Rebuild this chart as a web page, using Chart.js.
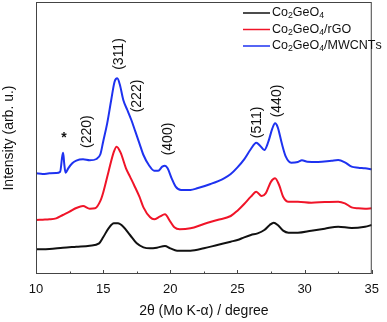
<!DOCTYPE html>
<html>
<head>
<meta charset="utf-8">
<script src="https://cdn.jsdelivr.net/npm/chart.js@4"></script>
<style>
  body { margin: 0; background: #fff; }
  canvas { display: block; }
</style>
</head>
<body>
<canvas id="chart" width="387" height="322"></canvas>
<script>
// XRD patterns, intensity in arbitrary units (offset stacked)
const seriesNames = ['Co2GeO4', 'Co2GeO4/rGO', 'Co2GeO4/MWCNTs'];
const seriesColors = ['#111111', '#f01428', '#1e32f0'];

const blackAngle = [10, 11, 12, 13, 14, 14.7, 15, 15.4, 15.8, 16.1, 16.5, 17, 17.5, 18, 18.5, 19, 19.6, 20, 20.5, 21.5,
  22.5, 23.5, 24.5, 25, 25.5, 26, 26.5, 27, 27.4, 27.7, 28, 28.4, 28.8, 29.5, 30.5, 31.5, 32.5, 33.5, 34.5, 35];
const blackIntensity = [74, 75, 79, 82, 85, 92, 110, 137, 152, 152, 142, 117, 92, 80, 77, 79, 84, 77, 70, 70,
  77, 87, 97, 102, 110, 117, 122, 132, 147, 154, 147, 130, 124, 124, 130, 136, 142, 138, 142, 147];

const redAngle = [10, 10.5, 11, 11.5, 12, 12.5, 13, 13.5, 14, 14.4, 14.8, 15, 15.4, 15.8, 16, 16.3, 16.7, 17, 17.3, 17.7,
  18, 18.5, 18.8, 19.2, 19.6, 20, 20.3, 20.7, 21.5, 22.5, 23.5, 24.5, 25, 25.5, 26, 26.4, 26.8, 27.1, 27.5, 27.8,
  28.1, 28.4, 28.8, 29.5, 30.5, 31.5, 32.5, 33, 33.5, 34, 34.5, 35];
const redIntensity = [162, 163, 164, 167, 177, 187, 198, 204, 196, 197, 220, 244, 307, 367, 382, 364, 317, 292, 267, 232,
  200, 170, 164, 172, 179, 157, 140, 134, 137, 150, 162, 174, 190, 210, 232, 247, 234, 242, 277, 287,
  267, 232, 217, 217, 214, 216, 217, 212, 200, 197, 196, 197];

const blueAngle = [10, 10.5, 11, 11.5, 11.8, 11.95, 12.02, 12.1, 12.2, 12.4, 12.7, 13, 13.5, 14, 14.5, 14.8, 15, 15.3, 15.6, 15.85,
  16.05, 16.25, 16.5, 16.8, 17.1, 17.4, 17.7, 18, 18.4, 18.8, 19.1, 19.4, 19.6, 19.8, 20.1, 20.4, 20.8, 21.5, 22, 23,
  24, 24.5, 25, 25.5, 26, 26.4, 26.7, 27, 27.3, 27.6, 27.8, 28, 28.3, 28.6, 29, 29.5, 29.8, 30.2, 31, 32,
  32.5, 33, 33.5, 34, 34.5, 35];
const blueIntensity = [302, 300, 302, 303, 307, 352, 364, 332, 304, 317, 332, 340, 344, 341, 345, 360, 397, 452, 522, 577,
  587, 567, 522, 492, 462, 427, 392, 357, 327, 310, 310, 322, 325, 317, 287, 262, 252, 252, 257, 270,
  287, 300, 320, 344, 375, 394, 384, 372, 397, 437, 452, 440, 392, 352, 334, 336, 341, 337, 336, 340,
  342, 335, 322, 319, 317, 314];

// reflection labels
const peakLabels = ['*', '(220)', '(311)', '(222)', '(400)', '(511)', '(440)'];
const peakAngles = [12.08, 13.8, 16.21, 17.53, 19.87, 26.45, 27.95];
const peakHeights = [417, 427, 660, 534, 405, 455, 519];

const FONT = '"Liberation Sans", Arial, sans-serif';

function toPoints(xs, ys) {
  return xs.map((x, i) => ({ x: x, y: ys[i] }));
}

// draws a formula, digits following a letter become subscripts
function drawFormula(ctx, text, x, y, size) {
  let cx = x;
  for (let i = 0; i < text.length; i++) {
    const ch = text[i];
    const sub = /\d/.test(ch) && i > 0 && /[A-Za-z]/.test(text[i - 1]);
    ctx.font = (sub ? size * 0.7 : size) + 'px ' + FONT;
    ctx.fillText(ch, cx, sub ? y + size * 0.22 : y);
    cx += ctx.measureText(ch).width;
  }
}

const decor = {
  id: 'decor',
  afterDatasetsDraw(chart) {
    const ctx = chart.ctx;
    const area = chart.chartArea;
    const xs = chart.scales.x;
    const ys = chart.scales.y;
    ctx.save();

    // frame
    ctx.strokeStyle = '#444';
    ctx.lineWidth = 1;
    ctx.strokeRect(area.left + 0.5, area.top + 0.5, area.right - area.left - 1, area.bottom - area.top - 1);

    // inward ticks on bottom axis
    for (let v = 10; v <= 35; v += 2.5) {
      const px = Math.round(xs.getPixelForValue(v)) + 0.5;
      const len = v % 5 === 0 ? 4 : 2.5;
      ctx.beginPath();
      ctx.moveTo(px, area.bottom);
      ctx.lineTo(px, area.bottom - len);
      ctx.stroke();
    }

    // peak labels
    ctx.fillStyle = '#111';
    peakLabels.forEach((t, i) => {
      const px = xs.getPixelForValue(peakAngles[i]);
      const py = ys.getPixelForValue(peakHeights[i]);
      ctx.save();
      ctx.translate(px, py);
      if (t === '*') {
        ctx.font = 'bold 14px ' + FONT;
        const m = ctx.measureText(t);
        ctx.textAlign = 'center';
        ctx.textBaseline = 'alphabetic';
        ctx.fillText(t, 0, (m.actualBoundingBoxAscent - m.actualBoundingBoxDescent) / 2);
      } else {
        ctx.rotate(-Math.PI / 2);
        ctx.font = '14px ' + FONT;
        ctx.textAlign = 'center';
        ctx.textBaseline = 'middle';
        ctx.fillText(t, 0, 0);
      }
      ctx.restore();
    });

    // legend
    const rows = [13, 29.5, 46];
    seriesNames.forEach((name, i) => {
      ctx.strokeStyle = seriesColors[i];
      ctx.lineWidth = 1.5;
      ctx.beginPath();
      ctx.moveTo(243, rows[i]);
      ctx.lineTo(270, rows[i]);
      ctx.stroke();
      ctx.fillStyle = '#111';
      ctx.textBaseline = 'middle';
      ctx.textAlign = 'left';
      drawFormula(ctx, name, 272, rows[i], 12.5);
    });
    ctx.restore();
  }
};

const ctx = document.getElementById('chart').getContext('2d');
new Chart(ctx, {
  type: 'line',
  data: {
    datasets: [
      { label: seriesNames[0], data: toPoints(blackAngle, blackIntensity), borderColor: seriesColors[0] },
      { label: seriesNames[1], data: toPoints(redAngle, redIntensity), borderColor: seriesColors[1] },
      { label: seriesNames[2], data: toPoints(blueAngle, blueIntensity), borderColor: seriesColors[2] }
    ]
  },
  options: {
    responsive: false,
    animation: false,
    layout: { padding: { top: 2, right: 9, left: 0, bottom: 0 } },
    elements: {
      point: { radius: 0 },
      line: { borderWidth: 2, cubicInterpolationMode: 'monotone' }
    },
    plugins: { legend: { display: false }, tooltip: { enabled: false } },
    scales: {
      x: {
        type: 'linear', min: 10, max: 35,
        grid: { display: false, drawTicks: false },
        border: { display: false },
        ticks: { stepSize: 5, padding: 8, color: '#111', font: { size: 13, family: FONT } },
        title: { display: true, text: '2θ (Mo K-α) / degree', color: '#111', padding: { top: 0, bottom: 2 },
          font: { size: 14, family: FONT } },
        afterFit: s => { s.height = 48; }
      },
      y: {
        min: 0, max: 816,
        grid: { display: false, drawTicks: false },
        border: { display: false },
        ticks: { display: false },
        title: { display: true, text: 'Intensity (arb. u.)', color: '#111', padding: { top: 1, bottom: 18 },
          font: { size: 14, family: FONT } },
        afterFit: s => { s.width = 36; }
      }
    }
  },
  plugins: [decor]
});
</script>
</body>
</html>
